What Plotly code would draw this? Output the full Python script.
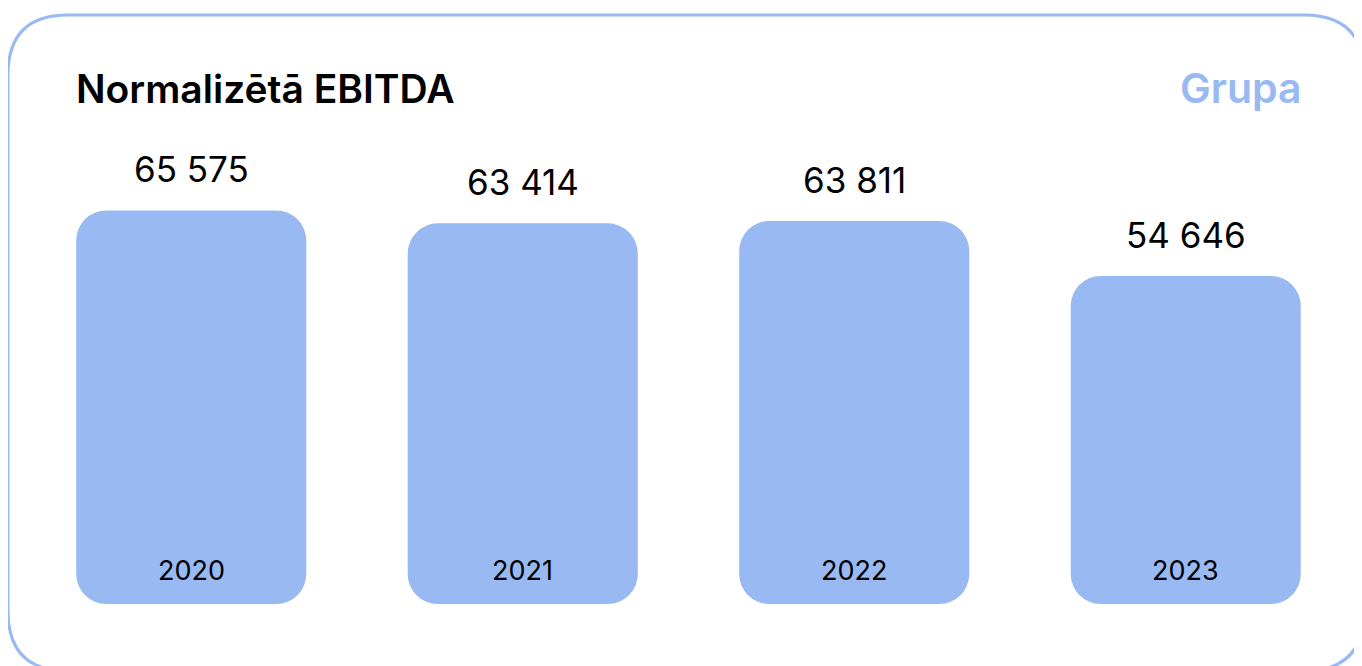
import plotly.graph_objects as go

years = ["2020", "2021", "2022", "2023"]
values = [65575, 63414, 63811, 54646]
value_labels = ["65 575", "63 414", "63 811", "54 646"]
title_text = "Normalizētā EBITDA"
group_text = "Grupa"

OFF = 8  # page body margin
W, H = 1362 - OFF, 666 - OFF
BAR = "#98b9f2"

def px(x):
    return (x - OFF) / W

def py(y):
    return 1 - (y - OFF) / H

idx = list(range(len(years)))
fig = go.Figure()
fig.add_trace(go.Bar(
    x=idx, y=values, base=[0] * len(values),
    marker=dict(color=BAR, cornerradius=30, line=dict(width=0)),
    hoverinfo="skip", showlegend=False,
))

annotations = []
for i, (yr, v, lab) in enumerate(zip(years, values, value_labels)):
    annotations.append(dict(
        x=i, y=v, xref="x", yref="y", text=lab, showarrow=False,
        yanchor="middle", yshift=41,
        font=dict(family="Inter, sans-serif", size=35, color="#000000"),
    ))
    annotations.append(dict(
        x=i, y=0, xref="x", yref="y", text=yr, showarrow=False,
        yanchor="middle", yshift=34,
        font=dict(family="Inter, sans-serif", size=27, color="#000000"),
    ))

annotations.append(dict(
    x=px(74), y=py(88), xref="paper", yref="paper", text=title_text,
    showarrow=False, xanchor="left", yanchor="middle",
    font=dict(family="Inter, sans-serif", size=39, weight=600, color="#000000"),
))
annotations.append(dict(
    x=px(1304), y=py(88), xref="paper", yref="paper", text=group_text,
    showarrow=False, xanchor="right", yanchor="middle",
    font=dict(family="Inter, sans-serif", size=41, weight=600, color=BAR),
))

# card border
L, T, R_, B, r = 8, 15, 1364, 671, 60
path = (
    f"M {px(L+r)} {py(T)} L {px(R_-r)} {py(T)} "
    f"Q {px(R_)} {py(T)} {px(R_)} {py(T+r)} "
    f"L {px(R_)} {py(B-r)} Q {px(R_)} {py(B)} {px(R_-r)} {py(B)} "
    f"L {px(L+r)} {py(B)} Q {px(L)} {py(B)} {px(L)} {py(B-r)} "
    f"L {px(L)} {py(T+r)} Q {px(L)} {py(T)} {px(L+r)} {py(T)} Z"
)

y_bottom_px, y_top_px = 604, 100
scale = 166.6
fig.update_layout(
    width=W, height=H,
    margin=dict(l=0, r=0, t=0, b=0),
    paper_bgcolor="white", plot_bgcolor="white",
    barmode="overlay", bargap=0.306,
    xaxis=dict(domain=[px(25.5), px(1351.5)], range=[-0.5, 3.5], visible=False,
               fixedrange=True),
    yaxis=dict(domain=[py(y_bottom_px), py(y_top_px)],
               range=[0, (y_bottom_px - y_top_px) * scale], visible=False, fixedrange=True),
    annotations=annotations,
    shapes=[dict(type="path", path=path, xref="paper", yref="paper",
                 line=dict(color=BAR, width=3), fillcolor="rgba(0,0,0,0)", layer="below")],
    showlegend=False,
)

fig.write_html("out.html")
